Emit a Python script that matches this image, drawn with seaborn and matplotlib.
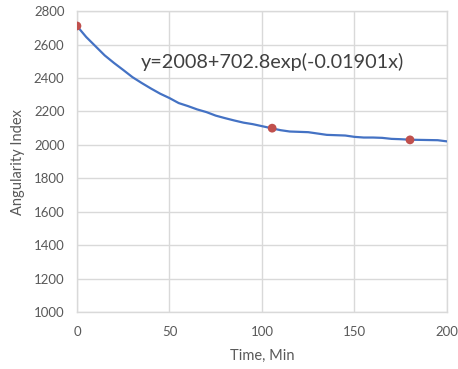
import matplotlib
matplotlib.use("Agg")
import matplotlib.pyplot as plt
import seaborn as sns
import pandas as pd

# Angularity index over time (smoothed curve samples)
time_min = [0, 5, 10, 15, 20, 25, 30, 35, 40, 45, 50, 55, 60, 65, 70, 75, 80,
            85, 90, 95, 100, 105, 110, 115, 120, 125, 130, 135, 140, 145, 150,
            155, 160, 165, 170, 175, 180, 185, 190, 195, 200]
angularity = [2711, 2645, 2590, 2535, 2490, 2448, 2405, 2370, 2337, 2306, 2280,
              2250, 2232, 2212, 2196, 2175, 2160, 2146, 2133, 2124, 2112, 2100,
              2088, 2080, 2078, 2076, 2068, 2060, 2058, 2056, 2048, 2044, 2044,
              2042, 2036, 2034, 2031, 2030, 2029, 2028, 2021]

# Measured points
meas_time = [0, 105.5, 180]
meas_value = [2711, 2100, 2030]

x_ticks = [0, 50, 100, 150, 200]
y_ticks = [1000, 1200, 1400, 1600, 1800, 2000, 2200, 2400, 2600, 2800]
equation = "y=2008+702.8exp(-0.01901x)"

sns.set_theme(style="white")
plt.rcParams["font.family"] = ["Lato", "DejaVu Sans"]

curve = pd.DataFrame({"t": time_min, "ai": angularity})
points = pd.DataFrame({"t": meas_time, "ai": meas_value})

fig = plt.figure(figsize=(4.58, 3.69), dpi=100)
ax = fig.add_axes([0.168, 0.154, 0.808, 0.816])

sns.lineplot(data=curve, x="t", y="ai", ax=ax, color="#4472C4", linewidth=1.6,
             zorder=3)
sns.scatterplot(data=points, x="t", y="ai", ax=ax, color="#C0504D", s=40,
                edgecolor="none", zorder=4)

ax.set_xlim(0, 200)
ax.set_ylim(1000, 2800)
ax.set_xticks(x_ticks)
ax.set_yticks(y_ticks)
ax.grid(True, color="#d9d9d9", linewidth=1.0)
ax.set_axisbelow(True)
for s in ax.spines.values():
    s.set_color("#d9d9d9")
    s.set_linewidth(1.0)
ax.tick_params(axis="both", length=0, labelsize=9.5, labelcolor="#595959")
ax.tick_params(axis="x", pad=10)
ax.tick_params(axis="y", pad=9)

ax.set_xlabel("Time, Min", fontsize=10.5, color="#595959", labelpad=8)
ax.set_ylabel("Angularity Index", fontsize=10.5, color="#595959", labelpad=6)

ax.text(34.5, 2495, equation, fontsize=14.3, color="#404040", va="center",
        ha="left")

fig.savefig("out.png", dpi=100)
